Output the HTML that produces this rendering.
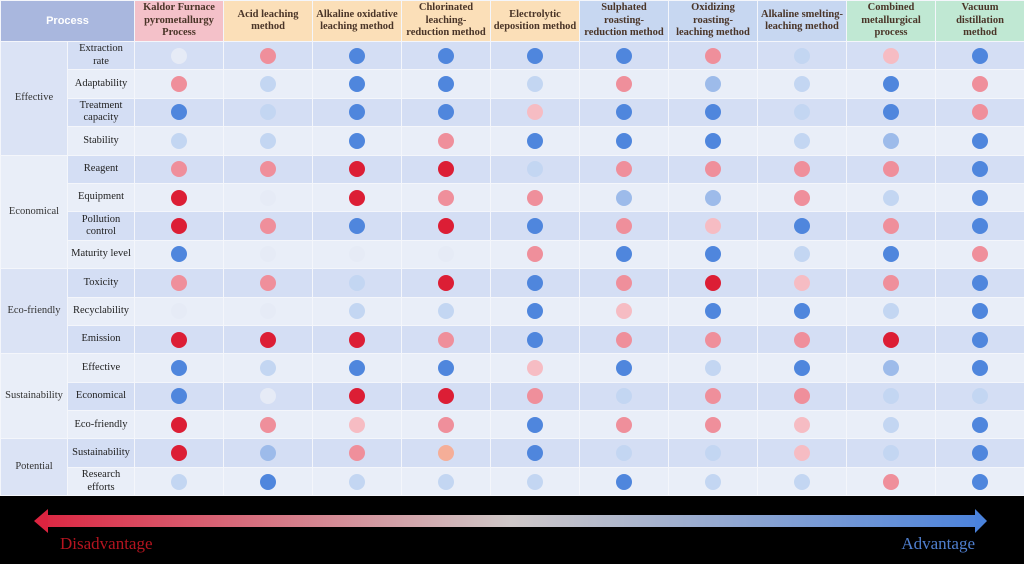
<!DOCTYPE html>
<html><head><meta charset="utf-8"><style>
body{margin:0;width:1024px;height:564px;background:#000;overflow:hidden;font-family:"Liberation Serif",serif;}
table{position:absolute;left:0;top:0;border-collapse:collapse;table-layout:fixed;width:1024px;}
td,th{border:1px solid #f4f6fb;padding:0;text-align:center;vertical-align:middle;white-space:nowrap;}
th{height:40px;font-size:10.5px;line-height:12.5px;color:#4a3528;font-weight:bold;}
td{height:27.4px;font-size:10.5px;line-height:12.5px;color:#222;}
tr.d td{background:#d4def4}
tr.l td{background:#e9eef8}
td.cd{background:#dbe3f5!important;color:#333}
td.cl{background:#e9eef8!important;color:#333}
.dot{display:inline-block;width:16px;height:16px;border-radius:50%;vertical-align:middle}
</style></head><body>
<table id="t">
<colgroup><col style="width:67px"><col style="width:67px"><col span="10" style="width:89px"></colgroup>
<tr>
<th colspan="2" style="background:#a9b7de;color:#fff;font-family:'Liberation Sans',sans-serif;font-size:11px">Process</th>
<th style="background:#f4c1c9">Kaldor Furnace<br>pyrometallurgy<br>Process</th>
<th style="background:#fbdfb8">Acid leaching<br>method</th>
<th style="background:#fbdfb8">Alkaline oxidative<br>leaching method</th>
<th style="background:#fbdfb8">Chlorinated<br>leaching-<br>reduction method</th>
<th style="background:#fbdfb8">Electrolytic<br>deposition method</th>
<th style="background:#c7d7f1">Sulphated<br>roasting-<br>reduction method</th>
<th style="background:#c7d7f1">Oxidizing<br>roasting-<br>leaching method</th>
<th style="background:#c7d7f1">Alkaline smelting-<br>leaching method</th>
<th style="background:#c0e8d3">Combined<br>metallurgical<br>process</th>
<th style="background:#c0e8d3">Vacuum<br>distillation<br>method</th>
</tr>
<tr class="d"><td rowspan="4" class="cd">Effective</td><td>Extraction<br>rate</td></tr>
<tr class="l"><td>Adaptability</td></tr>
<tr class="d"><td>Treatment<br>capacity</td></tr>
<tr class="l"><td>Stability</td></tr>
<tr class="d"><td rowspan="4" class="cl">Economical</td><td>Reagent</td></tr>
<tr class="l"><td>Equipment</td></tr>
<tr class="d"><td>Pollution<br>control</td></tr>
<tr class="l"><td>Maturity level</td></tr>
<tr class="d"><td rowspan="3" class="cd">Eco-friendly</td><td>Toxicity</td></tr>
<tr class="l"><td>Recyclability</td></tr>
<tr class="d"><td>Emission</td></tr>
<tr class="l"><td rowspan="3" class="cl">Sustainability</td><td>Effective</td></tr>
<tr class="d"><td>Economical</td></tr>
<tr class="l"><td>Eco-friendly</td></tr>
<tr class="d"><td rowspan="2" class="cd">Potential</td><td>Sustainability</td></tr>
<tr class="l"><td>Research<br>efforts</td></tr>
</table>
<svg width="1024" height="564" style="position:absolute;left:0;top:0">
<defs><linearGradient id="g" x1="34" x2="987" gradientUnits="userSpaceOnUse">
<stop offset="0" stop-color="#dc2440"/><stop offset="0.5" stop-color="#cfc8c8"/><stop offset="1" stop-color="#4a82dc"/></linearGradient></defs>
<rect x="46" y="515" width="930" height="12" fill="url(#g)"/>
<polygon points="34,521 48,509 48,533" fill="#dc2440"/>
<polygon points="987,521 975,509 975,533" fill="#4a82dc"/>
<text x="60" y="549" font-family="Liberation Serif" font-size="17" fill="#b5141f">Disadvantage</text>
<text x="975" y="549" text-anchor="end" font-family="Liberation Serif" font-size="17" fill="#4f7fcf">Advantage</text>
</svg>
<script>
var C={R3:"#dc1e35",R2:"#ef8f9b",R1:"#f6bcc3",N:"#e6ebf6",B1:"#c3d6f2",B2:"#9dbbea",B3:"#4f86dd",O:"#f5ae98"};
var D=[
"N R2 B3 B3 B3 B3 R2 B1 R1 B3",
"R2 B1 B3 B3 B1 R2 B2 B1 B3 R2",
"B3 B1 B3 B3 R1 B3 B3 B1 B3 R2",
"B1 B1 B3 R2 B3 B3 B3 B1 B2 B3",
"R2 R2 R3 R3 B1 R2 R2 R2 R2 B3",
"R3 N R3 R2 R2 B2 B2 R2 B1 B3",
"R3 R2 B3 R3 B3 R2 R1 B3 R2 B3",
"B3 N N N R2 B3 B3 B1 B3 R2",
"R2 R2 B1 R3 B3 R2 R3 R1 R2 B3",
"N N B1 B1 B3 R1 B3 B3 B1 B3",
"R3 R3 R3 R2 B3 R2 R2 R2 R3 B3",
"B3 B1 B3 B3 R1 B3 B1 B3 B2 B3",
"B3 N R3 R3 R2 B1 R2 R2 B1 B1",
"R3 R2 R1 R2 B3 R2 R2 R1 B1 B3",
"R3 B2 R2 O B3 B1 B1 R1 B1 B3",
"B1 B3 B1 B1 B1 B3 B1 B1 R2 B3"];
var rows=document.getElementById("t").rows;
for(var i=0;i<16;i++){var a=D[i].split(" ");for(var j=0;j<10;j++){var c=rows[i+1].insertCell(-1);c.innerHTML='<span class="dot" style="background:'+C[a[j]]+'"></span>';}}
</script>
</body></html>
